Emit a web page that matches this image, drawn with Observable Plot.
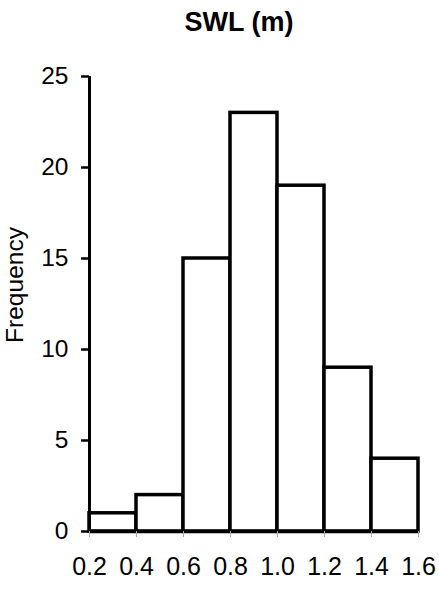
<!DOCTYPE html>
<html>
<head>
<meta charset="utf-8">
<script src="https://cdn.jsdelivr.net/npm/d3@7"></script>
<script src="https://cdn.jsdelivr.net/npm/@observablehq/plot@0.6"></script>
<style>
  html, body { margin: 0; padding: 0; background: #fff; }
</style>
</head>
<body>
<div id="chart"></div>
<script>
const title = "SWL (m)";
const yLabel = "Frequency";
const binStart = [0.2, 0.4, 0.6, 0.8, 1.0, 1.2, 1.4];
const binEnd   = [0.4, 0.6, 0.8, 1.0, 1.2, 1.4, 1.6];
const counts   = [1, 2, 15, 23, 19, 9, 4];
const xTicks = [0.2, 0.4, 0.6, 0.8, 1.0, 1.2, 1.4, 1.6];
const yTicks = [0, 5, 10, 15, 20, 25];

const bins = binStart.map((s, i) => ({x1: s, x2: binEnd[i], y: counts[i]}));

const chart = Plot.plot({
  width: 439,
  height: 593,
  marginLeft: 89,
  marginRight: 21,
  marginTop: 76,
  marginBottom: 62,
  style: {fontFamily: "Arial, 'Liberation Sans', sans-serif", background: "white", color: "black"},
  x: {domain: [0.2, 1.6]},
  y: {domain: [0, 25]},
  marks: [
    Plot.rectY(bins, {x1: "x1", x2: "x2", y: "y", fill: "white", stroke: "black", strokeWidth: 3.5}),
    Plot.ruleX([0.2], {y1: 0, y2: 25, stroke: "black", strokeWidth: 3}),
    Plot.ruleY([0], {stroke: "black", strokeWidth: 3.5}),
    Plot.axisY({ticks: yTicks, tickSize: 8, tickPadding: 13, fontSize: 24.5, label: null, strokeWidth: 2.5}),
    Plot.axisX({ticks: xTicks, tickSize: 6, tickPadding: 20, fontSize: 25, label: null, stroke: "#aaa", tickFormat: d3.format(".1f")}),
    Plot.text([title], {frameAnchor: "top", dx: -15, dy: -65, fontSize: 27, fontWeight: "bold", fill: "black"}),
    Plot.text([yLabel], {frameAnchor: "left", textAnchor: "middle", rotate: -90, dx: -74, dy: -19, fontSize: 24.5, fill: "black"})
  ]
});
document.getElementById("chart").appendChild(chart);
</script>
</body>
</html>
